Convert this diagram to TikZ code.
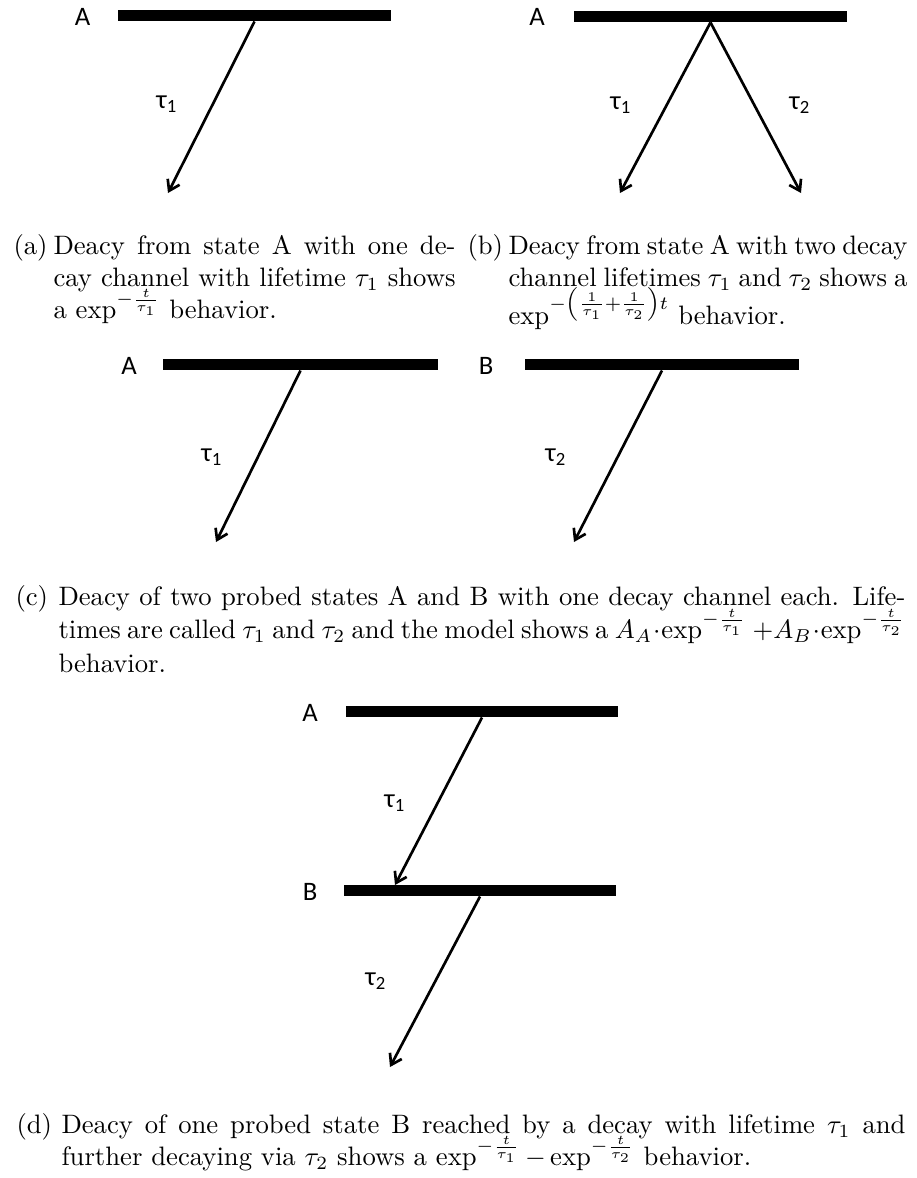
\documentclass[tikz,border=0pt]{standalone}
\usepackage{amsmath}
\usepackage{fontspec}
\newfontfamily\calib{Carlito}
\usetikzlibrary{arrows.meta}
\begin{document}
\begin{tikzpicture}[x=0.375pt,y=-0.375pt,
  levelbar/.style={fill=black,draw=none,inner sep=0pt,minimum height=4.1pt},
  decayarrow/.style={line width=1pt,-{Straight Barb[length=3.8pt,width=5pt]}},
  lvlabel/.style={font=\calib\fontsize{10}{12}\selectfont,inner sep=0pt},
  captxt/.style={font=\fontsize{10}{12}\selectfont,inner sep=0pt,anchor=base west}]
\useasboundingbox (0,0) rectangle (916,1178);

% ---------- (a)
\node[levelbar,minimum width=102.4pt] (aA) at (254.5,15.5) {};
\node[lvlabel] (aAl) at (82.5,17) {A};
\node[lvlabel] (at1) at (167,104) {τ\textsubscript{1}};
\coordinate (at1e) at (168,193);
\draw[decayarrow] (aA.south) -- (at1e);

% ---------- (b)
\node[levelbar,minimum width=102.4pt] (bA) at (710.5,16.5) {};
\node[lvlabel] (bAl) at (537,17) {A};
\node[lvlabel] (bt1) at (621,105) {τ\textsubscript{1}};
\node[lvlabel] (bt2) at (800,105) {τ\textsubscript{2}};
\coordinate (bt1e) at (620,193);
\coordinate (bt2e) at (801,193);
\draw[decayarrow] (bA.south) -- (bt1e);
\draw[decayarrow] (bA.south) -- (bt2e);

% ---------- captions (a) and (b)
\node[captxt] (capa) at (13,254) {(a)};
\node[captxt] (capa1) at (53,254) {\hbox to 150.75pt{Deacy from state A with one de-}};
\node[captxt] (capa2) at (53,286) {\hbox to 150.75pt{cay channel with lifetime $\tau_1$ shows}};
\node[captxt] (capa3) at (53,318) {a $\exp^{-\frac{t}{\tau_1}}$ behavior.};

\node[captxt] (capb) at (467,254) {(b)};
\node[captxt] (capb1) at (508,254) {\hbox to 149.6pt{Deacy from state A with two decay}};
\node[captxt] (capb2) at (508,286) {\hbox to 149.6pt{channel lifetimes $\tau_1$ and $\tau_2$ shows a}};
\node[captxt] (capb3) at (508,324) {$\exp^{-\left(\frac{1}{\tau_1}+\frac{1}{\tau_2}\right)t}$ behavior.};

% ---------- (c)
\node[levelbar,minimum width=103.1pt] (cA) at (300.5,364.5) {};
\node[lvlabel] (cAl) at (129,366) {A};
\node[lvlabel] (ct1) at (212,457) {τ\textsubscript{1}};
\coordinate (ct1e) at (216,542);
\draw[decayarrow] (cA.south) -- (ct1e);

\node[levelbar,minimum width=102.75pt] (cB) at (662,364.5) {};
\node[lvlabel] (cBl) at (486,366) {B};
\node[lvlabel] (ct2) at (556,457) {τ\textsubscript{2}};
\coordinate (ct2e) at (574,542);
\draw[decayarrow] (cB.south) -- (ct2e);

\node[captxt] (capc) at (15,605) {(c)};
\node[captxt] (capc1) at (58,605) {\hbox to 317.6pt{Deacy of two probed states A and B with one decay channel each. Life-}};
\node[captxt] (capc2) at (58,638) {\hbox to 317.6pt{times are called $\tau_1$ and $\tau_2$ and the model shows a $A_A\cdot\exp^{-\frac{t}{\tau_1}}$ $+A_B\cdot\exp^{-\frac{t}{\tau_2}}$}};
\node[captxt] (capc3) at (58,672) {behavior.};

% ---------- (d)
\node[levelbar,minimum width=102pt] (dA) at (482,711.5) {};
\node[lvlabel] (dAl) at (310,713) {A};
\node[lvlabel] (dt1) at (395,803) {τ\textsubscript{1}};
\coordinate (dt1e) at (395,885);
\draw[decayarrow] (dA.south) -- (dt1e);

\node[levelbar,minimum width=102pt] (dB) at (480,890.5) {};
\node[lvlabel] (dBl) at (310,892) {B};
\node[lvlabel] (dt2) at (376,981) {τ\textsubscript{2}};
\coordinate (dt2e) at (390,1067);
\draw[decayarrow] (dB.south) -- (dt2e);

\node[captxt] (capd) at (16,1133) {(d)};
\node[captxt] (capd1) at (61,1133) {\hbox to 316.5pt{Deacy of one probed state B reached by a decay with lifetime $\tau_1$ and}};
\node[captxt] (capd2) at (61,1165) {further decaying via $\tau_2$ shows a $\exp^{-\frac{t}{\tau_1}}-\exp^{-\frac{t}{\tau_2}}$ behavior.};
\end{tikzpicture}
\end{document}
